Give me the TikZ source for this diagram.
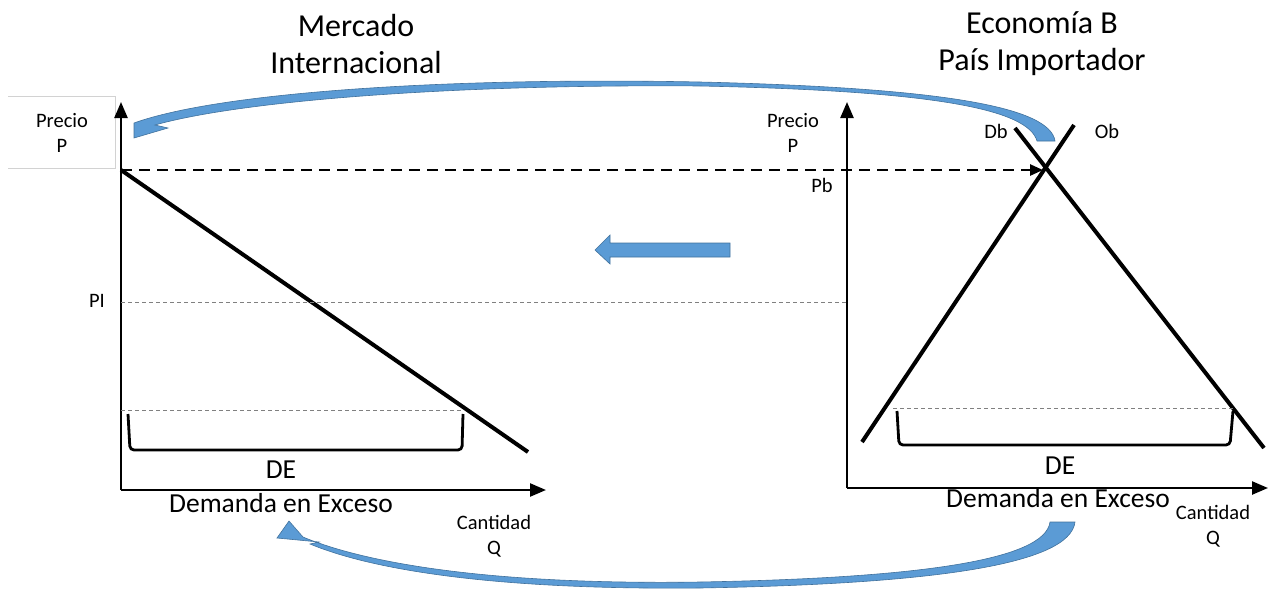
\documentclass[tikz,border=0pt]{standalone}
\usepackage{fontspec}
\setmainfont{Carlito}
\usetikzlibrary{arrows.meta}
\definecolor{swooshblue}{RGB}{91,155,213}
\definecolor{swooshedge}{RGB}{65,113,156}

\begin{document}
\begin{tikzpicture}[x=1pt,y=-1pt,
	axis/.style={line width=2.4pt,-{Triangle[length=16pt,width=13pt]}},
	curve/.style={line width=4pt},
	guide/.style={gray,line width=0.9pt,dash pattern=on 4pt off 3pt},
	bracket/.style={line width=2.8pt,rounded corners=4pt},
	swoosh/.style={fill=swooshblue,draw=swooshedge,line width=0.6pt},
	small/.style={font=\fontsize{20.5}{25}\selectfont,align=center},
	big/.style={font=\fontsize{27.5}{32}\selectfont},
	title/.style={font=\fontsize{32}{37}\selectfont,align=center}]
	\useasboundingbox (0,0) rectangle (1269,592);
	% titles
	\node[title] (titleL) at (356,44) {Mercado\\Internacional};
	\node[title] (titleR) at (1042,44) {Economía B\\País Importador};
	% left market
	\draw[gray!35, line width=0.8pt] (8,96) -- (115,96) -- (115,168) -- (8,168);
	\coordinate (oL) at (121,490);
	\coordinate (yL) at (121,102);
	\coordinate (xL) at (546,490);
	\draw[axis] (oL) -- (yL);
	\draw[axis] (oL) -- (xL);
	\coordinate (deL1) at (121,170);
	\coordinate (deL2) at (528,452);
	\draw[curve] (deL1) -- (deL2);
	\node[small] (precioL) at (62,133) {Precio\\P};
	\node[small] (pl) at (97,301) {PI};
	\node[small] (cantL) at (494,536) {Cantidad\\Q};
	\node[big] (deL) at (281,470) {DE};
	\node[big] (excL) at (281,503) {Demanda en Exceso};
	\coordinate (glL1) at (121,410);
	\coordinate (glL2) at (465,410);
	\draw[guide] (glL1) -- (glL2);
	\draw[bracket] (128,414) -- (130,450) -- (462,450) -- (463,414);
	% right economy
	\coordinate (oR) at (847,488);
	\coordinate (yR) at (847,102);
	\coordinate (xR) at (1268,488);
	\draw[axis] (oR) -- (yR);
	\draw[axis] (oR) -- (xR);
	\coordinate (obA) at (862,442);
	\coordinate (obB) at (1074,125);
	\coordinate (dbA) at (1015,128);
	\coordinate (dbB) at (1264,448);
	\coordinate (eq) at (1043,170);
	\draw[curve] (obA) -- (obB);
	\draw[curve] (dbA) -- (dbB);
	\node[small] (precioR) at (793,133) {Precio\\P};
	\node[small] (pb) at (822,185) {Pb};
	\node[small] (db) at (996,131) {Db};
	\node[small] (ob) at (1107,131) {Ob};
	\node[small] (cantR) at (1213,526) {Cantidad\\Q};
	\node[big] (deR) at (1060,466) {DE};
	\node[big] (excR) at (1058,498) {Demanda en Exceso};
	\coordinate (glR1) at (893,408);
	\coordinate (glR2) at (1233,408);
	\draw[guide] (glR1) -- (glR2);
	\draw[bracket] (897,411) -- (899,445) -- (1230,445) -- (1233,411);
	% links between both
	\draw[line width=2.6pt, dash pattern=on 11pt off 7pt, -{Triangle[length=13pt,width=11pt]}] (deL1) -- (eq);
	\coordinate (plR) at (847,302);
	\draw[guide] (121,302) -- (plR);
	\draw[swoosh] (730,243) -- (610,243) -- (610,235) -- (595,250) -- (610,264) -- (610,257) -- (730,257) -- cycle;
	\draw[swoosh] (1055,141) .. controls (1050,108) and (950,88) .. (700,82)
		.. controls (450,77) and (220,92) .. (134,123) -- (134,138) -- (168,128) -- (155,125)
		.. controls (240,101) and (450,84) .. (700,86)
		.. controls (940,91) and (1028,110) .. (1037,141) -- cycle;
	\draw[swoosh] (1050,522) .. controls (1045,560) and (920,578) .. (700,582)
		.. controls (500,585) and (370,565) .. (303,537) -- (289,521) -- (277,538) -- (319,542) -- (310,544)
		.. controls (375,571) and (500,590) .. (700,588)
		.. controls (930,584) and (1070,565) .. (1075,522) -- cycle;
\end{tikzpicture}
\end{document}
